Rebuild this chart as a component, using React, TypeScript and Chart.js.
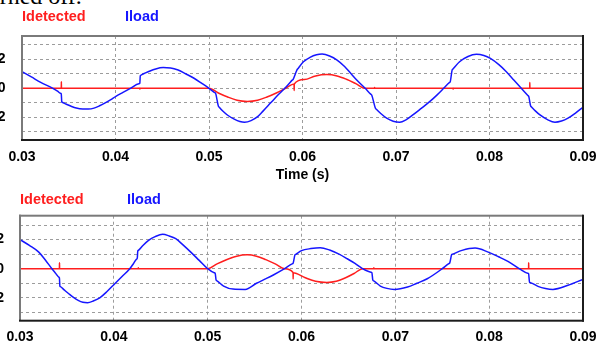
import React, { useEffect, useRef } from 'react';
import { Chart, registerables } from 'chart.js';

Chart.register(...registerables);

const W = 597;
const xTicks = [0.03, 0.04, 0.05, 0.06, 0.07, 0.08, 0.09];
const yGridValues = [-3, -2, -1, 0, 1, 2, 3];
const yLabelValues = [-2, 0, 2];
const seriesNames = ['Idetected', 'Iload'];
const axisTitle = 'Time (s)';
const captionText = 'turned off.';

// ---- top plot ----
const topLoadT = [
  0.0300, 0.0310, 0.0320, 0.0333, 0.0338, 0.0341, 0.0342, 0.03425, 0.0343, 0.0347, 0.0352,
  0.0358, 0.0365, 0.0371, 0.0377, 0.0383, 0.0389, 0.0395, 0.0400, 0.0408, 0.0416, 0.0425,
  0.0426, 0.04265, 0.0427, 0.0430, 0.0435, 0.0443, 0.0451, 0.0459, 0.0467, 0.0475, 0.0484,
  0.0492, 0.0500, 0.0506, 0.0507, 0.0510, 0.0511, 0.0515, 0.0520, 0.0527, 0.0533, 0.0538,
  0.0545, 0.0552, 0.0558, 0.0566, 0.0574, 0.0581, 0.0586, 0.0589, 0.0590, 0.0594, 0.0595,
  0.0601, 0.0608, 0.0615, 0.0621, 0.0629, 0.0637, 0.0645, 0.0652, 0.0658, 0.0667, 0.0673,
  0.0674, 0.0678, 0.0679, 0.0684, 0.0690, 0.0697, 0.0704, 0.0711, 0.0718, 0.0727, 0.0736,
  0.0744, 0.0751, 0.0757, 0.0758, 0.0760, 0.0761, 0.0768, 0.0777, 0.0786, 0.0794, 0.0801,
  0.0810, 0.0818, 0.0826, 0.0834, 0.0841, 0.0842, 0.0844, 0.0845, 0.0849, 0.0854, 0.0862,
  0.0870, 0.0877, 0.0884, 0.0892, 0.0900,
];
const topLoadI = [
  1.14, 0.78, 0.41, 0.00, -0.20, -0.34, -0.38, -0.92, -0.96, -1.08, -1.22,
  -1.36, -1.42, -1.42, -1.36, -1.20, -1.00, -0.78, -0.57, -0.28, 0.00, 0.31,
  0.34, 0.85, 0.89, 1.00, 1.14, 1.33, 1.42, 1.40, 1.26, 1.00, 0.69,
  0.35, 0.00, -0.29, -0.34, -1.21, -1.30, -1.58, -1.85, -2.12, -2.28, -2.33,
  -2.22, -1.95, -1.55, -1.00, -0.45, 0.00, 0.35, 0.56, 0.62, 1.25, 1.34,
  1.82, 2.12, 2.30, 2.35, 2.22, 1.94, 1.50, 1.00, 0.57, 0.00, -0.40,
  -0.46, -1.37, -1.44, -1.75, -2.05, -2.26, -2.33, -2.15, -1.83, -1.38, -0.92,
  -0.45, 0.00, 0.39, 0.45, 1.25, 1.33, 1.82, 2.18, 2.33, 2.25, 2.05,
  1.62, 1.14, 0.57, 0.00, -0.50, -0.57, -1.21, -1.28, -1.55, -1.83, -2.15,
  -2.33, -2.25, -2.05, -1.70, -1.30,
];
const topDetT = [
  0.0300, 0.0342, 0.03421, 0.03422, 0.0426, 0.04261, 0.04262, 0.0500, 0.0510, 0.0520,
  0.0530, 0.0541, 0.0552, 0.0562, 0.0572, 0.0582, 0.0591, 0.05911, 0.05912, 0.0602,
  0.0614, 0.0626, 0.0637, 0.0647, 0.0657, 0.0667, 0.0677, 0.06771, 0.06772, 0.0761,
  0.07611, 0.07612, 0.0843, 0.08431, 0.08432, 0.0900,
];
const topDetI = [
  0, 0, 0.45, 0, 0, -0.06, 0, 0, -0.32, -0.60,
  -0.82, -0.90, -0.82, -0.60, -0.32, 0, 0.30, -0.15, 0.30, 0.60,
  0.85, 0.94, 0.85, 0.62, 0.32, 0, 0, 0.06, 0, 0,
  -0.06, 0, 0, 0.40, 0, 0,
];

// ---- bottom plot ----
const botLoadT = [
  0.0300, 0.0310, 0.0320, 0.0327, 0.0334, 0.0338, 0.0341, 0.0342, 0.03425, 0.0343, 0.0347,
  0.0352, 0.0357, 0.0362, 0.0367, 0.0372, 0.0378, 0.0385, 0.0393, 0.0401, 0.0409, 0.0417,
  0.0421, 0.0424, 0.0425, 0.04255, 0.0426, 0.0431, 0.0437, 0.0444, 0.0452, 0.0459, 0.0466,
  0.0474, 0.0482, 0.0491, 0.0500, 0.0507, 0.0508, 0.0509, 0.0510, 0.0517, 0.0527, 0.0540,
  0.0552, 0.0561, 0.0570, 0.0582, 0.0590, 0.0591, 0.0593, 0.0594, 0.0600, 0.0610, 0.0620,
  0.0630, 0.0640, 0.0648, 0.0657, 0.0665, 0.0674, 0.0675, 0.0676, 0.0677, 0.0684, 0.0691,
  0.0699, 0.0713, 0.0723, 0.0734, 0.0750, 0.0757, 0.0758, 0.0760, 0.0761, 0.0771, 0.0785,
  0.0799, 0.0810, 0.0820, 0.0832, 0.0841, 0.0842, 0.0843, 0.0844, 0.0852, 0.0860, 0.0868,
  0.0884, 0.0900,
];
const botLoadI = [
  2.00, 1.60, 1.14, 0.60, 0.00, -0.32, -0.56, -0.64, -1.19, -1.23, -1.45,
  -1.72, -1.97, -2.17, -2.30, -2.33, -2.22, -2.00, -1.55, -1.03, -0.52, 0.00,
  0.36, 0.64, 0.73, 1.21, 1.25, 1.60, 1.95, 2.20, 2.36, 2.25, 2.06,
  1.62, 1.14, 0.57, 0.00, -0.28, -0.32, -0.78, -0.84, -1.19, -1.40, -1.42,
  -1.00, -0.72, -0.43, 0.00, 0.33, 0.37, 0.94, 0.99, 1.24, 1.38, 1.44,
  1.28, 1.00, 0.71, 0.36, 0.00, -0.24, -0.27, -0.78, -0.84, -1.19, -1.35,
  -1.42, -1.26, -1.00, -0.69, 0.00, 0.35, 0.40, 0.96, 1.00, 1.26, 1.42,
  1.14, 0.82, 0.50, 0.00, -0.31, -0.34, -0.92, -0.96, -1.21, -1.36, -1.42,
  -1.14, -0.73,
];
const botDetT = [
  0.0300, 0.0342, 0.03421, 0.03422, 0.0426, 0.04261, 0.04262, 0.0500, 0.0510, 0.0520,
  0.0531, 0.0542, 0.0552, 0.0562, 0.0572, 0.0582, 0.0591, 0.05911, 0.05912, 0.0604,
  0.0615, 0.0627, 0.0637, 0.0647, 0.0656, 0.0665, 0.0677, 0.06771, 0.06772, 0.0842,
  0.08421, 0.08422, 0.0900,
];
const botDetI = [
  0, 0, 0.41, 0, 0, 0.06, 0, 0, 0.33, 0.62,
  0.86, 0.95, 0.86, 0.62, 0.33, 0, -0.26, -0.70, -0.28, -0.62,
  -0.86, -0.94, -0.86, -0.62, -0.33, 0, 0, 0.06, 0, 0,
  0.41, 0, 0,
];

const RED = '#ff1e1e';
const BLUE = '#1616ff';
const FONT = '"Liberation Sans", Arial, sans-serif';

type Spec = {
  loadT: number[]; loadI: number[]; detT: number[]; detI: number[];
  yMin: number; yMax: number;
  plotLeft: number; plotRight: number; plotTop: number; plotBottom: number;
  canvasH: number; tickPad: number; yTickPad: number;
  legendY: number; legendX: [number, number]; titlePadBottom: number;
};

const pts = (t: number[], v: number[]) => t.map((x, i) => ({ x, y: v[i] }));

function ScopeChart({ spec, top }: { spec: Spec; top: number }) {
  const ref = useRef<HTMLCanvasElement>(null);
  useEffect(() => {
    const s = spec;
    const decor = {
      id: 'decor',
      afterDatasetsDraw(chart: any) {
        const { ctx, chartArea } = chart;
        const { left, right, top: t, bottom } = chartArea;
        ctx.save();
        ctx.fillStyle = '#7a7a7a';
        ctx.fillRect(left - 1, t - 1, right - left + 1, 2);
        ctx.fillRect(left - 1, t - 1, 2, bottom - t + 1);
        ctx.fillStyle = '#1c1c1c';
        ctx.fillRect(left - 1, bottom - 1, right - left + 2, 2);
        ctx.fillRect(right - 1, t - 1, 2, bottom - t + 2);
        ctx.restore();
      },
      afterDraw(chart: any) {
        const { ctx } = chart;
        ctx.save();
        ctx.font = `bold 14.5px ${FONT}`;
        ctx.textBaseline = 'middle';
        ctx.textAlign = 'left';
        const order = [1, 0]; // dataset index for Idetected, Iload
        order.forEach((di, k) => {
          const ds = chart.data.datasets[di];
          ctx.fillStyle = ds.borderColor;
          ctx.fillText(ds.label, s.legendX[k], s.legendY);
        });
        ctx.restore();
      },
    };
    const gridCommon = { color: '#9c9c9c', lineWidth: 1, drawTicks: false };
    const chart = new Chart(ref.current!, {
      type: 'line',
      data: {
        datasets: [
          {
            label: seriesNames[1], data: pts(s.loadT, s.loadI), borderColor: BLUE,
            borderWidth: 1.5, pointRadius: 0, cubicInterpolationMode: 'monotone', order: 0,
          },
          {
            label: seriesNames[0], data: pts(s.detT, s.detI), borderColor: RED,
            borderWidth: 1.5, pointRadius: 0, cubicInterpolationMode: 'monotone', order: 1,
          },
        ],
      },
      options: {
        animation: false,
        responsive: false,
        maintainAspectRatio: false,
        events: [],
        layout: { padding: { top: s.plotTop, left: 0, right: W - s.plotRight, bottom: 0 } },
        plugins: { legend: { display: false }, tooltip: { enabled: false }, title: { display: false } },
        scales: {
          x: {
            type: 'linear', min: xTicks[0], max: xTicks[xTicks.length - 1],
            afterBuildTicks: (sc: any) => { sc.ticks = xTicks.map((v) => ({ value: v })); },
            afterFit: (sc: any) => { sc.height = s.canvasH - s.plotBottom; sc.paddingLeft = 0; sc.paddingRight = 0; },
            grid: gridCommon,
            border: { display: false, dash: [3, 3] },
            ticks: {
              color: '#000', padding: s.tickPad, autoSkip: false, maxRotation: 0,
              font: { family: FONT, weight: 'bold', size: 14 },
              callback: (v: any) => Number(v).toFixed(2),
            },
            title: {
              display: true, text: axisTitle, color: '#000',
              font: { family: FONT, weight: 'bold', size: 14 },
              padding: { top: 0, bottom: s.titlePadBottom },
            },
          },
          y: {
            type: 'linear', min: s.yMin, max: s.yMax,
            afterBuildTicks: (sc: any) => { sc.ticks = yGridValues.map((v) => ({ value: v })); },
            afterFit: (sc: any) => { sc.width = s.plotLeft; sc.paddingTop = 0; sc.paddingBottom = 0; },
            grid: gridCommon,
            border: { display: false, dash: [3, 3] },
            ticks: {
              color: '#000', padding: s.yTickPad, autoSkip: false,
              font: { family: FONT, weight: 'bold', size: 14 },
              callback: (v: any) => (yLabelValues.includes(Number(v)) ? String(v) : ''),
            },
          },
        },
      },
      plugins: [decor],
    } as any);
    return () => chart.destroy();
  }, []);
  return (
    <canvas
      ref={ref}
      width={W}
      height={spec.canvasH}
      style={{ position: 'absolute', left: 0, top, width: W, height: spec.canvasH, display: 'block' }}
    />
  );
}

const topSpec: Spec = {
  loadT: topLoadT, loadI: topLoadI, detT: topDetT, detI: topDetI,
  yMin: -3.55, yMax: 3.59,
  plotLeft: 22, plotRight: 583, plotTop: 36, plotBottom: 140,
  canvasH: 185, tickPad: 8.6, yTickPad: 16.5,
  legendY: 17, legendX: [22, 125], titlePadBottom: 1.6,
};

const botSpec: Spec = {
  loadT: botLoadT, loadI: botLoadI, detT: botDetT, detI: botDetI,
  yMin: -3.57, yMax: 3.64,
  plotLeft: 20, plotRight: 583, plotTop: 30.7, plotBottom: 135.7,
  canvasH: 185, tickPad: 7.9, yTickPad: 16,
  legendY: 15, legendX: [20, 127], titlePadBottom: 1.6,
};

export default function App() {
  return (
    <div style={{ position: 'fixed', left: 0, top: 0, width: W, height: 344, overflow: 'hidden', background: '#fff' }}>
      <div
        style={{
          position: 'absolute', left: -19, top: -15.6, fontFamily: '"Liberation Serif", "Times New Roman", serif',
          fontSize: 24, lineHeight: '24px', color: '#000', whiteSpace: 'nowrap',
        }}
      >
        {captionText}
      </div>
      <ScopeChart spec={topSpec} top={0} />
      <ScopeChart spec={botSpec} top={185} />
    </div>
  );
}
